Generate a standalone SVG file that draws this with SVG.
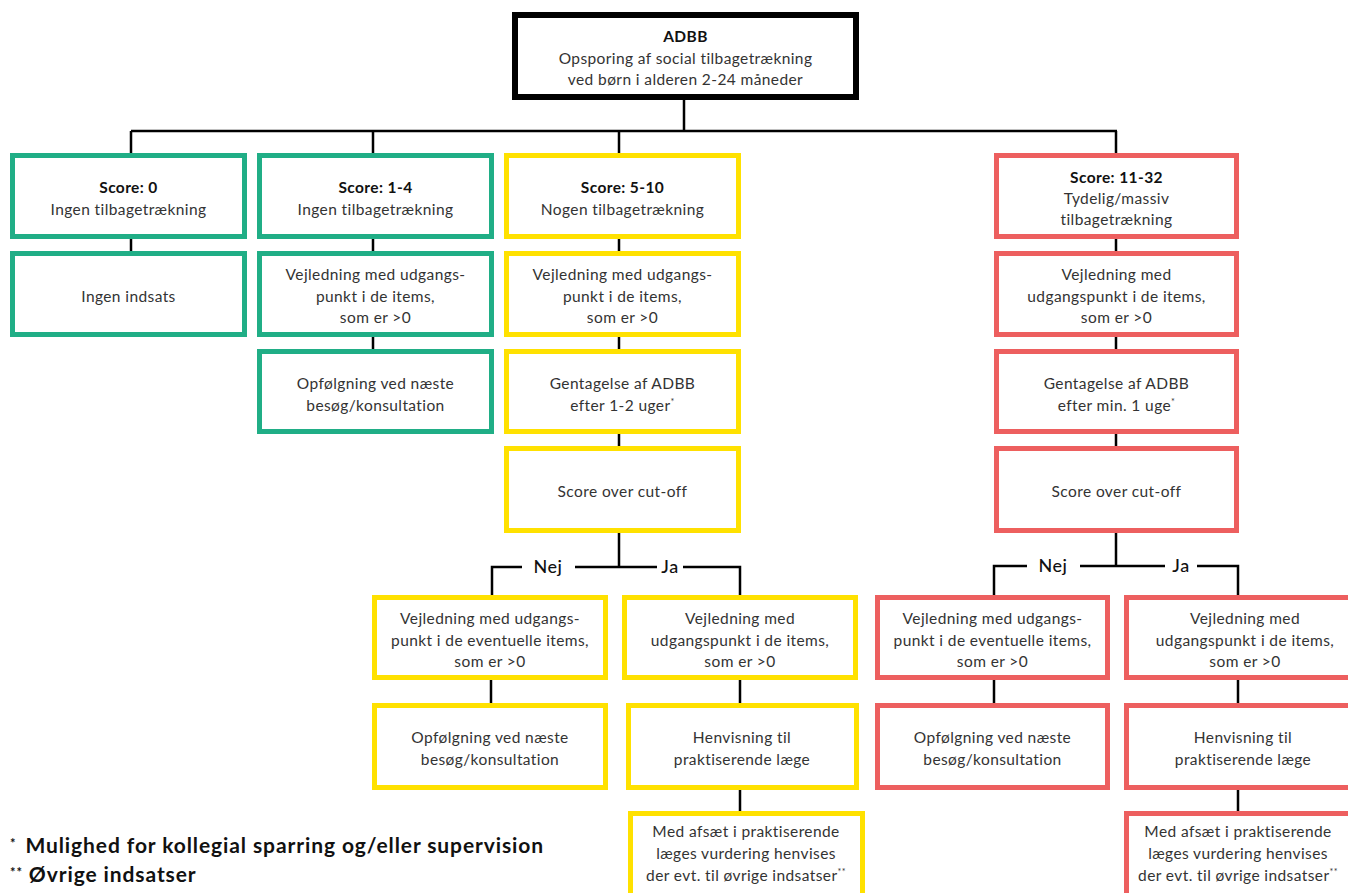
<svg xmlns="http://www.w3.org/2000/svg" width="1348" height="893" viewBox="0 0 1348 893">
<style>
.t{font-family:Lato,"Noto Sans","DejaVu Sans",sans-serif;font-size:15.5px;letter-spacing:0.4px;fill:#333;text-anchor:middle}
.b{font-weight:bold;fill:#111}
.g{fill:#fff;stroke:#20ae86;stroke-width:5}
.y{fill:#fff;stroke:#ffe100;stroke-width:5}
.r{fill:#fff;stroke:#ed5f5f;stroke-width:5}
.k{fill:#fff;stroke:#000;stroke-width:6}
.c{stroke:#000;stroke-width:2.5;fill:none}
.lab{font-family:Lato,"Noto Sans",sans-serif;font-size:18px;font-weight:500;letter-spacing:0.5px;fill:#111;text-anchor:middle}
.ft{font-family:Lato,"Noto Sans",sans-serif;font-size:21px;font-weight:bold;letter-spacing:0.9px;fill:#111}
.sup{font-size:9px}
</style>
<g id="connectors">
<path class="c" d="M684 100V131M131 131H1117M131 131V153M373 131V153M619 131V153M1116 131V153"/>
<path class="c" d="M131 239V251M373 239V251M373 337V349"/>
<path class="c" d="M619 239V251M619 337V349M619 434V446M619 533V567"/>
<path class="c" d="M492 595V567H522M575 567H657M683 567H740V595"/>
<path class="c" d="M491 680V703M740 680V703M740 790V811"/>
<path class="c" d="M1116 239V251M1116 337V349M1116 434V446M1116 533V566"/>
<path class="c" d="M994 595V566H1027M1080 566H1165M1197 566H1238V595"/>
<path class="c" d="M994 680V703M1238 680V703M1238 790V811"/>
<text class="lab" x="548" y="573">Nej</text>
<text class="lab" x="670" y="573">Ja</text>
<text class="lab" x="1053" y="572">Nej</text>
<text class="lab" x="1181" y="572">Ja</text>
</g>
<g id="root">
<rect class="k" x="515" y="15" width="341" height="82"/>
<text class="t b" x="685.5" y="42">ADBB</text>
<text class="t" x="685.5" y="64">Opsporing af social tilbagetrækning</text>
<text class="t" x="685.5" y="85">ved børn i alderen 2-24 måneder</text>
</g>
<g id="g1">
<rect class="g" x="12.5" y="155.5" width="232" height="81"/>
<text class="t b" x="128.5" y="193">Score: 0</text>
<text class="t" x="128.5" y="215">Ingen tilbagetrækning</text>
</g>
<g id="g1b">
<rect class="g" x="12.5" y="253.5" width="232" height="81"/>
<text class="t" x="128.5" y="302">Ingen indsats</text>
</g>
<g id="g2">
<rect class="g" x="259.5" y="155.5" width="232" height="81"/>
<text class="t b" x="375.5" y="193">Score: 1-4</text>
<text class="t" x="375.5" y="215">Ingen tilbagetrækning</text>
</g>
<g id="g2b">
<rect class="g" x="259.5" y="253.5" width="232" height="81"/>
<text class="t" x="375.5" y="280">Vejledning med udgangs-</text>
<text class="t" x="375.5" y="302">punkt i de items,</text>
<text class="t" x="375.5" y="323">som er &gt;0</text>
</g>
<g id="g2c">
<rect class="g" x="259.5" y="351.5" width="232" height="80"/>
<text class="t" x="375.5" y="389">Opfølgning ved næste</text>
<text class="t" x="375.5" y="411">besøg/konsultation</text>
</g>
<g id="y1">
<rect class="y" x="506.5" y="155.5" width="232" height="81"/>
<text class="t b" x="622.5" y="193">Score: 5-10</text>
<text class="t" x="622.5" y="215">Nogen tilbagetrækning</text>
</g>
<g id="y2">
<rect class="y" x="506.5" y="253.5" width="232" height="81"/>
<text class="t" x="622.5" y="280">Vejledning med udgangs-</text>
<text class="t" x="622.5" y="302">punkt i de items,</text>
<text class="t" x="622.5" y="323">som er &gt;0</text>
</g>
<g id="y3">
<rect class="y" x="506.5" y="351.5" width="232" height="80"/>
<text class="t" x="622.5" y="389">Gentagelse af ADBB</text>
<text class="t" x="622.5" y="411">efter 1-2 uger<tspan class="sup" dy="-6">*</tspan></text>
</g>
<g id="y4">
<rect class="y" x="506.5" y="448.5" width="232" height="82"/>
<text class="t" x="622.5" y="497">Score over cut-off</text>
</g>
<g id="yn1">
<rect class="y" x="374.5" y="597.5" width="231" height="80"/>
<text class="t" x="490" y="624">Vejledning med udgangs-</text>
<text class="t" x="490" y="646">punkt i de eventuelle items,</text>
<text class="t" x="490" y="667">som er &gt;0</text>
</g>
<g id="yn2">
<rect class="y" x="374.5" y="705.5" width="231" height="82"/>
<text class="t" x="490" y="743">Opfølgning ved næste</text>
<text class="t" x="490" y="765">besøg/konsultation</text>
</g>
<g id="yj1">
<rect class="y" x="624.5" y="597.5" width="231" height="80"/>
<text class="t" x="740" y="624">Vejledning med</text>
<text class="t" x="740" y="646">udgangspunkt i de items,</text>
<text class="t" x="740" y="667">som er &gt;0</text>
</g>
<g id="yj2">
<rect class="y" x="628.5" y="705.5" width="228" height="82"/>
<text class="t" x="742" y="743">Henvisning til</text>
<text class="t" x="742" y="765">praktiserende læge</text>
</g>
<g id="yj3">
<rect class="y" x="630.5" y="813.5" width="232" height="90"/>
<text class="t" x="746" y="837">Med afsæt i praktiserende</text>
<text class="t" x="746" y="859">læges vurdering henvises</text>
<text class="t" x="746" y="881">der evt. til øvrige indsatser<tspan class="sup" dy="-6">**</tspan></text>
</g>
<g id="r1">
<rect class="r" x="996.5" y="155.5" width="240" height="81"/>
<text class="t b" x="1116.5" y="183">Score: 11-32</text>
<text class="t" x="1116.5" y="204">Tydelig/massiv</text>
<text class="t" x="1116.5" y="225">tilbagetrækning</text>
</g>
<g id="r2">
<rect class="r" x="996.5" y="253.5" width="240" height="81"/>
<text class="t" x="1116.5" y="280">Vejledning med</text>
<text class="t" x="1116.5" y="302">udgangspunkt i de items,</text>
<text class="t" x="1116.5" y="323">som er &gt;0</text>
</g>
<g id="r3">
<rect class="r" x="996.5" y="351.5" width="240" height="80"/>
<text class="t" x="1116.5" y="389">Gentagelse af ADBB</text>
<text class="t" x="1116.5" y="411">efter min. 1 uge<tspan class="sup" dy="-6">*</tspan></text>
</g>
<g id="r4">
<rect class="r" x="996.5" y="448.5" width="240" height="82"/>
<text class="t" x="1116.5" y="497">Score over cut-off</text>
</g>
<g id="rn1">
<rect class="r" x="877.5" y="597.5" width="230" height="80"/>
<text class="t" x="992.5" y="624">Vejledning med udgangs-</text>
<text class="t" x="992.5" y="646">punkt i de eventuelle items,</text>
<text class="t" x="992.5" y="667">som er &gt;0</text>
</g>
<g id="rn2">
<rect class="r" x="877.5" y="705.5" width="230" height="82"/>
<text class="t" x="992.5" y="743">Opfølgning ved næste</text>
<text class="t" x="992.5" y="765">besøg/konsultation</text>
</g>
<g id="rj1">
<rect class="r" x="1126.5" y="597.5" width="240" height="80"/>
<text class="t" x="1245" y="624">Vejledning med</text>
<text class="t" x="1245" y="646">udgangspunkt i de items,</text>
<text class="t" x="1245" y="667">som er &gt;0</text>
</g>
<g id="rj2">
<rect class="r" x="1126.5" y="705.5" width="240" height="82"/>
<text class="t" x="1243" y="743">Henvisning til</text>
<text class="t" x="1243" y="765">praktiserende læge</text>
</g>
<g id="rj3">
<rect class="r" x="1126.5" y="813.5" width="240" height="90"/>
<text class="t" x="1238" y="837">Med afsæt i praktiserende</text>
<text class="t" x="1238" y="859">læges vurdering henvises</text>
<text class="t" x="1238" y="881">der evt. til øvrige indsatser<tspan class="sup" dy="-6">**</tspan></text>
</g>
<g id="footnotes">
<text class="ft" x="10" y="853"><tspan font-size="13" dy="-5">*</tspan><tspan dx="9" dy="5">Mulighed for kollegial sparring og/eller supervision</tspan></text>
<text class="ft" x="10" y="882"><tspan font-size="13" dy="-5">**</tspan><tspan dx="6" dy="5">Øvrige indsatser</tspan></text>
</g>
</svg>
